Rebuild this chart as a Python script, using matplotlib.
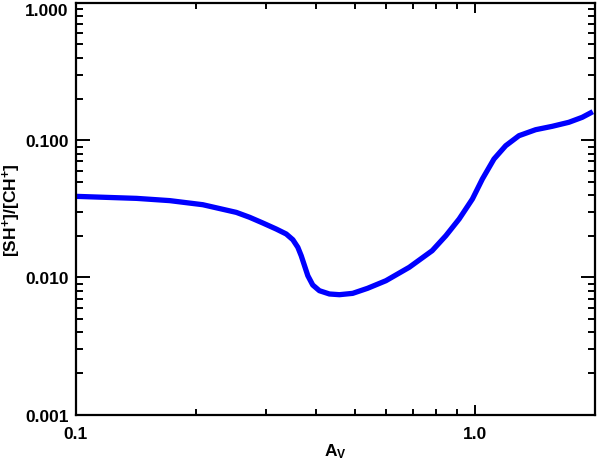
import matplotlib
matplotlib.use("Agg")
import matplotlib.pyplot as plt
from matplotlib.ticker import FixedLocator, LogLocator, NullFormatter

plt.rcParams['font.family'] = ['Liberation Sans', 'DejaVu Sans']
plt.rcParams['mathtext.fontset'] = 'custom'
plt.rcParams['mathtext.rm'] = 'Liberation Sans:bold'
plt.rcParams['mathtext.it'] = 'Liberation Sans:bold'
plt.rcParams['mathtext.bf'] = 'Liberation Sans:bold'

av = [0.1003, 0.1422, 0.1722, 0.2083, 0.2528, 0.2729, 0.2946, 0.3182, 0.3371,
      0.3502, 0.3604, 0.3675, 0.3746, 0.3818, 0.3928, 0.4081, 0.4324, 0.4581,
      0.4945, 0.5390, 0.5990, 0.6852, 0.7820, 0.8463, 0.9137, 0.9863, 1.0447,
      1.117, 1.195, 1.290, 1.420, 1.563, 1.720, 1.858, 1.975]
ratio = [0.0390, 0.0377, 0.0363, 0.0339, 0.0298, 0.02745, 0.02493, 0.02254, 0.02074,
         0.01884, 0.01659, 0.01441, 0.01218, 0.01030, 0.00881, 0.00801, 0.00758, 0.00749,
         0.00766, 0.00834, 0.00947, 0.01186, 0.01567, 0.02015, 0.02667, 0.03730, 0.05218,
         0.0730, 0.0912, 0.1079, 0.1193, 0.1263, 0.1351, 0.1469, 0.1614]

xticks = [0.1, 1.0]
xticklabels = ['0.1', '1.0']
yticks = [0.001, 0.01, 0.1, 1.0]
yticklabels = ['0.001', '0.010', '0.100', '1.000']

fig = plt.figure(figsize=(6.0, 4.64), dpi=100)
ax = fig.add_axes([75.5/600, 1-415.7/464, (595-75.5)/600, (415.7-4)/464])

ax.plot(av, ratio, color='#0000ff', lw=3.8, solid_joinstyle='round', solid_capstyle='butt')
ax.set_xscale('log')
ax.set_yscale('log')
ax.set_xlim(0.1, 2.0)
ax.set_ylim(0.001, 1.0)

ax.xaxis.set_major_locator(FixedLocator(xticks))
ax.set_xticklabels(xticklabels)
ax.xaxis.set_minor_locator(LogLocator(base=10, subs=range(2, 10)))
ax.xaxis.set_minor_formatter(NullFormatter())
ax.yaxis.set_major_locator(FixedLocator(yticks))
ax.set_yticklabels(yticklabels)
ax.yaxis.set_minor_locator(LogLocator(base=10, subs=range(2, 10)))
ax.yaxis.set_minor_formatter(NullFormatter())

for s in ax.spines.values():
    s.set_linewidth(1.6)
ax.tick_params(axis='both', which='both', direction='in', top=True, right=True,
               width=1.4, labelsize=12.5, colors='black')
ax.tick_params(axis='y', which='major', length=10, pad=5)
ax.tick_params(axis='y', which='minor', length=5)
ax.tick_params(axis='x', which='major', length=7, pad=8)
ax.tick_params(axis='x', which='minor', length=4)
for lab in ax.get_xticklabels() + ax.get_yticklabels():
    lab.set_fontweight('bold')
ax.get_yticklabels()[-1].set_verticalalignment('top')

fig.text(335/600, 1-452/464, 'A$_\\mathregular{V}$', fontsize=12.5, fontweight='bold',
         ha='center', va='center')
fig.text(12/600, 1-210/464, '[SH$^\\mathregular{+}$]/[CH$^\\mathregular{+}$]',
         fontsize=12.5, fontweight='bold', rotation=90, ha='center', va='center')

fig.savefig('out.png', dpi=100)
